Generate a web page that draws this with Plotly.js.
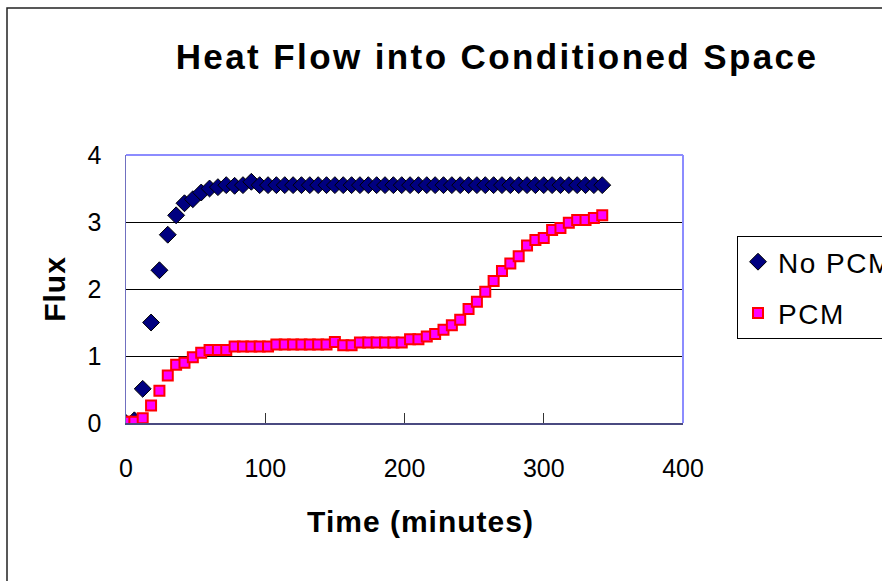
<!DOCTYPE html>
<html>
<head>
<meta charset="utf-8">
<script src="https://cdn.plot.ly/plotly-3.0.1.min.js"></script>
<style>
  html, body { margin: 0; padding: 0; background: #fff; }
  #chart { width: 882px; height: 581px; }
  .gtitle { letter-spacing: 2.4px; }
  .xtitle, .ytitle { letter-spacing: 1px; }
  .legendtext { letter-spacing: 1.5px; }
</style>
</head>
<body>
<div id="chart"></div>
<script>
// Time in minutes
const timeMinutes = [0, 6, 12, 18, 24, 30, 36, 42, 48, 54, 60, 66, 72, 78, 84, 90, 96, 102, 108, 114,
  120, 126, 132, 138, 144, 150, 156, 162, 168, 174, 180, 186, 192, 198, 204, 210, 216, 222, 228, 234,
  240, 246, 252, 258, 264, 270, 276, 282, 288, 294, 300, 306, 312, 318, 324, 330, 336, 342];

// Flux without phase-change material
const fluxNoPCM = [0.00, 0.04, 0.51, 1.50, 2.28, 2.81, 3.10, 3.28, 3.34, 3.44, 3.50, 3.52, 3.55, 3.54, 3.55, 3.60,
  3.55, 3.55, 3.55, 3.55, 3.55, 3.55, 3.55, 3.55, 3.55, 3.55, 3.55, 3.55, 3.55, 3.55,
  3.55, 3.55, 3.55, 3.55, 3.55, 3.55, 3.55, 3.55, 3.55, 3.55, 3.55, 3.55, 3.55, 3.55,
  3.55, 3.55, 3.55, 3.55, 3.55, 3.55, 3.55, 3.55, 3.55, 3.55, 3.55, 3.55, 3.55, 3.55];

// Flux with phase-change material
const fluxPCM = [0.02, 0.02, 0.07, 0.26, 0.48, 0.71, 0.87, 0.90, 0.98, 1.05, 1.09, 1.09, 1.09, 1.14, 1.14, 1.14,
  1.14, 1.14, 1.17, 1.17, 1.17, 1.17, 1.17, 1.17, 1.17, 1.21, 1.16, 1.16, 1.20, 1.20,
  1.20, 1.20, 1.20, 1.20, 1.25, 1.25, 1.29, 1.33, 1.39, 1.46, 1.54, 1.70, 1.81, 1.96,
  2.12, 2.27, 2.38, 2.49, 2.65, 2.73, 2.76, 2.88, 2.91, 2.99, 3.03, 3.03, 3.06, 3.10];

const seriesNames = ["No PCM", "PCM"];
const xTickVals = [0, 100, 200, 300, 400];
const yTickVals = [0, 1, 2, 3, 4];
const chartTitle = "Heat Flow into Conditioned Space";
const xTitle = "Time (minutes)";
const yTitle = "Flux";

const FONT = "Liberation Sans, Arial, Helvetica, sans-serif";

const traces = [
  {
    x: timeMinutes, y: fluxNoPCM, name: seriesNames[0], type: "scatter", mode: "markers",
    legendgroup: "a",
    marker: { symbol: "diamond", size: 13, color: "#000080", line: { color: "#000000", width: 1 } }
  },
  {
    x: timeMinutes, y: fluxPCM, name: seriesNames[1], type: "scatter", mode: "markers",
    legendgroup: "b",
    marker: { symbol: "square", size: 10, color: "#ff00ff", line: { color: "#ff0000", width: 2 } }
  }
];

const L = 126, R = 683, T = 155, B = 423;
const pw = R - L, ph = B - T;
const px = v => (v - L) / pw;
const py = v => (B - v) / ph;

const layout = {
  width: 882, height: 581,
  margin: { l: L, r: 882 - R, t: T, b: 581 - B, pad: 0, autoexpand: false },
  paper_bgcolor: "#ffffff", plot_bgcolor: "#ffffff",
  font: { family: FONT, color: "#000000" },
  showlegend: true,
  title: {
    text: chartTitle,
    font: { family: FONT, size: 35, weight: "bold", color: "#000000" },
    xref: "container", x: 497 / 882, xanchor: "center",
    yref: "container", y: 1 - 57 / 581, yanchor: "middle"
  },
  xaxis: {
    range: [0, 400], tickvals: xTickVals, ticktext: xTickVals.map(String),
    ticks: "inside", ticklen: 10, tickwidth: 1, tickcolor: "#333333",
    showgrid: false, zeroline: false,
    showline: true, linecolor: "#4a4a80", linewidth: 2,
    tickfont: { family: FONT, size: 25, color: "#000000" },
    ticklabelstandoff: 22,
    title: { text: xTitle, font: { family: FONT, size: 30, weight: "bold", color: "#000000" }, standoff: 30 },
    fixedrange: true
  },
  yaxis: {
    range: [0, 4], tickvals: yTickVals, ticktext: yTickVals.map(String),
    ticks: "", showgrid: true, gridcolor: "#000000", gridwidth: 1,
    zeroline: false, showline: true, linecolor: "#7070c0", linewidth: 1.5,
    tickfont: { family: FONT, size: 25, color: "#000000" },
    ticklabelstandoff: 18,
    title: { text: yTitle, font: { family: FONT, size: 30, weight: "bold", color: "#000000" }, standoff: 13 },
    fixedrange: true
  },
  legend: {
    x: px(737), xanchor: "left", y: py(236), yanchor: "top",
    bordercolor: "#000000", borderwidth: 1, bgcolor: "#ffffff",
    font: { family: FONT, size: 28, color: "#000000" },
    tracegroupgap: 12, itemclick: false, itemdoubleclick: false
  },
  shapes: [
    { type: "rect", xref: "paper", yref: "paper", x0: px(7), x1: px(900), y0: py(600), y1: py(8),
      line: { color: "#222222", width: 1.5 }, fillcolor: "rgba(0,0,0,0)", layer: "below" },
    { type: "line", xref: "paper", yref: "paper", x0: 0, x1: 1, y0: 1, y1: 1,
      line: { color: "#8c8cff", width: 2 }, layer: "above" },
    { type: "line", xref: "paper", yref: "paper", x0: 1, x1: 1, y0: 0, y1: 1,
      line: { color: "#8c8cff", width: 2 }, layer: "above" }
  ]
};

Plotly.newPlot("chart", traces, layout, { staticPlot: true, displayModeBar: false }).then(gd => {
  // The reference's x-axis title sits slightly right of the plot centre
  const t = gd.querySelector(".xtitle");
  if (t) {
    const x = parseFloat(t.getAttribute("x"));
    if (!isNaN(x)) t.setAttribute("x", x + 16);
  }
});
</script>
</body>
</html>
